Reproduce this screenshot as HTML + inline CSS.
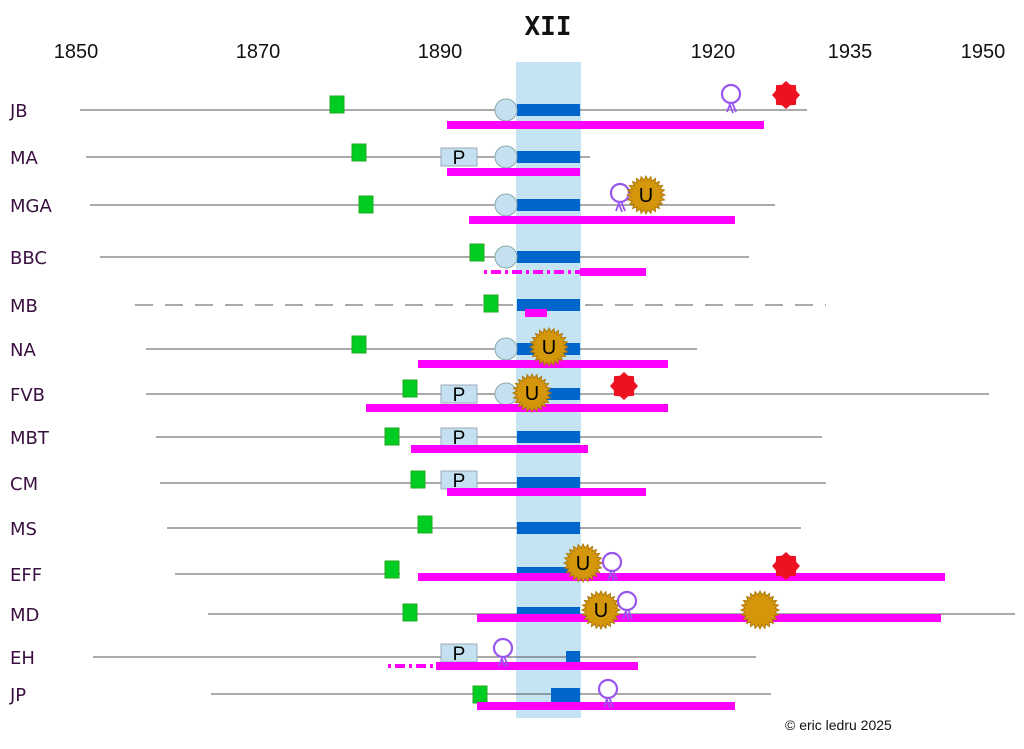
<!DOCTYPE html>
<html><head><meta charset="utf-8"><style>
html,body{margin:0;padding:0;background:#fff}
svg{display:block}
.yr{font-family:"Liberation Sans",sans-serif;font-size:20px;fill:#111}
.lb{font-family:"DejaVu Sans",sans-serif;font-size:18px;fill:#3a1040}
.P{font-family:"Liberation Sans",sans-serif;font-size:19px;fill:#000}
.U{font-family:"Liberation Sans",sans-serif;font-size:20px;fill:#000}
</style></head><body>
<svg id="s" width="1024" height="749" viewBox="0 0 1024 749" xmlns="http://www.w3.org/2000/svg">
<defs>
<polygon id="sun" fill="#d4960a" stroke="#b07808" stroke-width="1"/>
<polygon id="red" fill="#ee1122"/>
<g id="ros"><circle cx="0" cy="0" r="9" fill="#fff" stroke="#9955ee" stroke-width="2.2"/><path d="M-2,8 L2,19 M1,8 L5,18 M-1,10 L-4,18" stroke="#9955ee" stroke-width="1.8" fill="none"/></g>
</defs>
<rect x="516" y="62" width="65" height="656" fill="#c5e4f3"/>
<text x="76" y="58" text-anchor="middle" class="yr">1850</text>
<text x="258" y="58" text-anchor="middle" class="yr">1870</text>
<text x="440" y="58" text-anchor="middle" class="yr">1890</text>
<text x="713" y="58" text-anchor="middle" class="yr">1920</text>
<text x="850" y="58" text-anchor="middle" class="yr">1935</text>
<text x="983" y="58" text-anchor="middle" class="yr">1950</text>
<text x="548" y="35" text-anchor="middle" font-family="DejaVu Sans Mono,monospace" font-weight="bold" font-size="26" fill="#111">XII</text>
<g id="g"></g>
<text x="10" y="117" class="lb">JB</text>
<text x="10" y="164" class="lb">MA</text>
<text x="10" y="212" class="lb">MGA</text>
<text x="10" y="264" class="lb">BBC</text>
<text x="10" y="312" class="lb">MB</text>
<text x="10" y="356" class="lb">NA</text>
<text x="10" y="401" class="lb">FVB</text>
<text x="10" y="444" class="lb">MBT</text>
<text x="10" y="490" class="lb">CM</text>
<text x="10" y="535" class="lb">MS</text>
<text x="10" y="581" class="lb">EFF</text>
<text x="10" y="621" class="lb">MD</text>
<text x="10" y="664" class="lb">EH</text>
<text x="10" y="701" class="lb">JP</text>
<text x="785" y="730" font-family="Liberation Sans,sans-serif" font-size="14" fill="#111">© eric ledru 2025</text>
</svg>
<script>
function star(n,r1,r2){var p=[];for(var i=0;i<2*n;i++){var a=Math.PI*i/n-Math.PI/2,r=i%2?r2:r1;p.push((r*Math.cos(a)).toFixed(1)+","+(r*Math.sin(a)).toFixed(1));}return p.join(" ");}
document.getElementById("sun").setAttribute("points",star(24,19,15));
document.getElementById("red").setAttribute("points",star(8,14,11));
var g=document.getElementById("g"),h="";
function L(x1,x2,y,d){h+='<line x1="'+x1+'" x2="'+x2+'" y1="'+y+'" y2="'+y+'" stroke="#555" stroke-width="1"'+(d?' stroke-dasharray="18 12"':'')+'/>';}
function R(x,y,w,hh,c,s){h+='<rect x="'+x+'" y="'+y+'" width="'+w+'" height="'+hh+'" fill="'+c+'"'+(s?' stroke="'+s+'"':'')+'/>';}
function G(x,y){R(x,y-8,14,17,"#00cc22","#22aa22");}
function M(x1,x2,y){R(x1,y-4,x2-x1,8,"#ff00ff");}
function MD(x1,x2,y){h+='<line x1="'+x1+'" x2="'+x2+'" y1="'+y+'" y2="'+y+'" stroke="#ff00ff" stroke-width="4" stroke-dasharray="3 4 10 4"/>';}
function B(y,x1,x2){R(x1||517,y-6,(x2||580)-(x1||517),12,"#0066cc");}
function C(y){h+='<circle cx="506" cy="'+y+'" r="11" fill="#c5e0f0" stroke="#8aa" stroke-width="1"/>';}
function P(y){R(441,y-9,36,18,"#c5e0f0","#99aabb");h+='<text x="459" y="'+(y+7)+'" text-anchor="middle" class="P">P</text>';}
function U(x,y){h+='<use href="#sun" x="'+x+'" y="'+y+'"/><text x="'+x+'" y="'+(y+7)+'" text-anchor="middle" class="U">U</text>';}
function S(x,y){h+='<use href="#sun" x="'+x+'" y="'+y+'"/>';}
function Rd(x,y){h+='<use href="#red" x="'+x+'" y="'+y+'"/>';}
function Ro(x,y){h+='<use href="#ros" x="'+x+'" y="'+y+'"/>';}
L(80,807,110);G(330,104);B(110);C(110);M(447,764,125);Ro(731,94);Rd(786,95);
L(86,590,157);G(352,152);P(157);B(157);C(157);M(447,580,172);
L(90,775,205);G(359,204);B(205);C(205);M(469,735,220);Ro(620,193);U(646,195);
L(100,749,257);G(470,252);B(257);C(257);MD(484,580,272);M(580,646,272);
L(135,826,305,1);G(484,303);B(305);M(525,547,313);
L(146,697,349);G(352,344);B(349);C(349);M(418,668,364);U(549,347);
L(146,989,394);G(403,388);P(394);B(394);C(394);M(366,668,408);U(532,393);Rd(624,386);
L(156,822,437);G(385,436);P(437);B(437);M(411,588,449);
L(160,826,483);G(411,479);P(480);B(483);M(447,646,492);
L(167,801,528);G(418,524);B(528);
L(175,400,574);G(385,569);R(517,567,63,8,"#0066cc");M(418,945,577);U(583,563);Ro(612,562);Rd(786,566);
L(208,1015,614);G(403,612);R(517,607,63,8,"#0066cc");M(477,941,618);U(601,610);Ro(627,601);S(760,610);
L(93,756,657);P(653);R(566,651,14,11,"#0066cc");MD(388,433,666);M(436,638,666);Ro(503,648);
L(211,771,694);G(473,694);R(551,688,29,14,"#0066cc");M(477,735,706);Ro(608,689);
g.innerHTML=h;
</script>
</body></html>
